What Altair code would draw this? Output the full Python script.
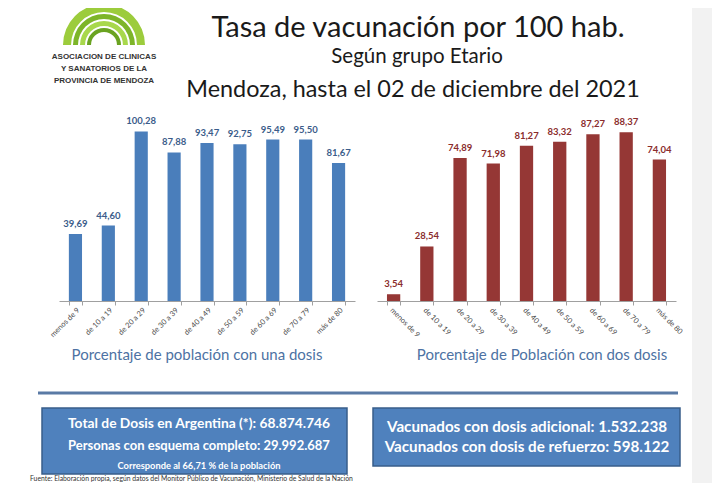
import altair as alt
import pandas as pd

# ---------------- data ----------------
cats = ["menos de 9", "de 10 a 19", "de 20 a 29", "de 30 a 39", "de 40 a 49",
        "de 50 a 59", "de 60 a 69", "de 70 a 79", "más de 80"]
una_dosis = [39.69, 44.60, 100.28, 87.88, 93.47, 92.75, 95.49, 95.50, 81.67]
dos_dosis = [3.54, 28.54, 74.89, 71.98, 81.27, 83.32, 87.27, 88.37, 74.04]

title_txt = "Tasa de vacunación por 100 hab."
subtitle_txt = "Según grupo Etario"
date_txt = "Mendoza, hasta el 02 de diciembre del 2021"
left_caption = "Porcentaje de población con una dosis"
right_caption = "Porcentaje de Población con dos dosis"
logo_lines = ["ASOCIACION DE CLINICAS", "Y SANATORIOS DE LA", "PROVINCIA DE MENDOZA"]
box1_lines = ["Total de Dosis  en Argentina (*): 68.874.746",
              "Personas con esquema completo: 29.992.687",
              "Corresponde al 66,71 % de la población"]
box2_lines = ["Vacunados con dosis adicional: 1.532.238",
              "Vacunados con dosis de refuerzo: 598.122"]
source_txt = ("Fuente: Elaboración propia, según datos del Monitor Público de Vacunación, "
              "Ministerio de Salud de la Nación")


def fmt(v):
    return f"{v:.2f}".replace(".", ",")


df1 = pd.DataFrame({"cat": cats, "v": una_dosis, "lab": [fmt(v) for v in una_dosis]})
df2 = pd.DataFrame({"cat": cats, "v": dos_dosis, "lab": [fmt(v) for v in dos_dosis]})

W, H = 704, 475
ONE = alt.Data(values=[{"a": 1}])
FONT = "Lato"


def text(t, x, y, size, color="#1a1a1a", weight="normal", align="center", font=FONT):
    return alt.Chart(ONE).mark_text(
        text=t, fontSize=size, color=color, fontWeight=weight, align=align,
        baseline="alphabetic", font=font
    ).encode(x=alt.value(x), y=alt.value(y))


def rect(x, x2, y, y2, fill, stroke=None, sw=0):
    kw = dict(fill=fill)
    if stroke:
        kw.update(stroke=stroke, strokeWidth=sw)
    return alt.Chart(ONE).mark_rect(**kw).encode(
        x=alt.value(x), x2=alt.value(x2), y=alt.value(y), y2=alt.value(y2))


def arc(cx, cy, r_out, r_in, color):
    return alt.Chart(ONE).mark_arc(
        theta=4.71239, theta2=7.85398, radius=r_out, radius2=r_in, color=color
    ).encode(x=alt.value(cx), y=alt.value(cy))


BASE = 293
TOP = 93


def bar_panel(df, x0, x1, ymax, bar_color, label_color, angle):
    xs = alt.X("cat:N", sort=cats,
               scale=alt.Scale(range=[x0, x1], paddingInner=0.6, paddingOuter=0.3),
               axis=alt.Axis(orient="bottom", offset=-(H - BASE), labelAngle=angle,
                             labelFontSize=7.5, labelColor="#4a4a4a", labelFont=FONT,
                             domainColor="#a0a0a0", ticks=True, tickBand="extent",
                             tickSize=4, tickColor="#a0a0a0", title=None,
                             labelPadding=1, labelOverlap=False))
    ys = alt.Y("v:Q", scale=alt.Scale(domain=[0, ymax], range=[BASE, TOP], nice=False),
               axis=None)
    base = alt.Chart(df)
    bars = base.mark_bar(color=bar_color).encode(x=xs, y=ys)
    labs = base.mark_text(dy=-5, baseline="bottom", fontSize=9.5, fontWeight="bold",
                          color=label_color, font=FONT).encode(x=xs, y=ys, text="lab:N")
    return alt.layer(bars, labs)


left = bar_panel(df1, 51, 347, 118.3, "#4a7ebb", "#3b5c8a", -45)
right = bar_panel(df2, 369, 668, 104.7, "#953735", "#8a2c2c", 45)

layers = [
    rect(684, 704, 0, H, "#f2f2f2"),
    # logo
    arc(96, 37, 41, 33, "#9ccc3c"),
    arc(96, 37, 31, 26, "#7db529"),
    arc(96, 37, 24, 19, "#a8d84c"),
    arc(96, 37, 17, 13, "#6aa321"),
    text(logo_lines[0], 96, 51, 8, "#333333", "bold", font="Liberation Sans"),
    text(logo_lines[1], 96, 62.5, 8, "#333333", "bold", font="Liberation Sans"),
    text(logo_lines[2], 96, 75, 8, "#333333", "bold", font="Liberation Sans"),
    # header
    text(title_txt, 410, 28.8, 29),
    text(subtitle_txt, 409, 55, 20.5),
    text(date_txt, 405, 89, 23.4),
    # charts
    left,
    right,
    text(left_caption, 189, 352, 15, "#4d72a3"),
    text(right_caption, 534, 352, 15, "#4d72a3"),
    # separator
    alt.Chart(ONE).mark_rule(color="#5a7aa5", strokeWidth=3).encode(
        x=alt.value(30), x2=alt.value(670), y=alt.value(385)),
    # boxes
    rect(34, 339, 400, 466, "#4f81bd", "#385d8a", 1.5),
    text(box1_lines[0], 191, 420, 13.8, "white", "bold"),
    text(box1_lines[1], 191, 442, 13, "white", "bold"),
    text(box1_lines[2], 191, 461, 9.3, "white", "bold"),
    rect(365, 672, 400, 458, "#4f81bd", "#385d8a", 1.5),
    text(box2_lines[0], 519, 424, 15.2, "white", "bold"),
    text(box2_lines[1], 519, 444, 15.2, "white", "bold"),
    text(source_txt, 22, 473, 6.8, "#333333", align="left"),
]

chart = alt.layer(*layers).resolve_scale(x="independent", y="independent").properties(
    width=W, height=H, autosize=alt.AutoSizeParams(type="none"), padding=0,
    background="white"
).configure_view(stroke=None)

chart.save("out.html", embed_options={"renderer": "svg", "actions": False})
